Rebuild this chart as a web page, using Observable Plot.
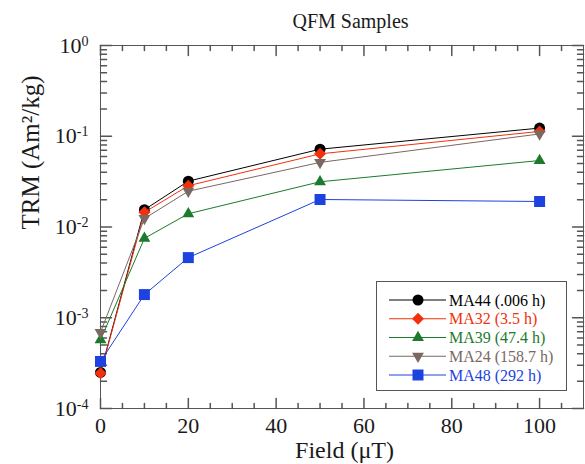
<!DOCTYPE html>
<html><head><meta charset="utf-8">
<script src="https://cdn.jsdelivr.net/npm/d3@7"></script>
<script src="https://cdn.jsdelivr.net/npm/@observablehq/plot@0.6"></script>
<style>body{margin:0;background:#fff;}</style>
</head><body><div id="chart"></div>
<script>
// ---- data ----
const fields = [0, 10, 20, 50, 100];
const seriesNames = ["MA44", "MA32", "MA39", "MA24", "MA48"];
const seriesTimes = [".006 h", "3.5 h", "47.4 h", "158.7 h", "292 h"];
const ma44 = [0.00025, 0.0155, 0.032, 0.072, 0.123];
const ma32 = [0.000245, 0.0145, 0.0285, 0.064, 0.113];
const ma39 = [0.00057, 0.0075, 0.014, 0.0315, 0.054];
const ma24 = [0.00069, 0.0124, 0.0248, 0.0515, 0.106];
const ma48 = [0.00033, 0.0018, 0.0046, 0.0201, 0.0191];
const seriesValues = [ma44, ma32, ma39, ma24, ma48];
const seriesColors = ["#000000", "#f2300c", "#1c7a2c", "#7a6862", "#1d42e0"];
const seriesSymbols = ["circle", "diamond", "triUp", "triDown", "square"];
const seriesRadius = [5.5, 4.8, 4.4, 4.4, 6.2];
const xMajorTicks = [0, 20, 40, 60, 80, 100];
const xMinorTicks = [5, 10, 15, 25, 30, 35, 45, 50, 55, 65, 70, 75, 85, 90, 95, 105];
const yMajorTicks = [1e-4, 1e-3, 1e-2, 1e-1, 1];
const yMinorTicks = [1e-4, 1e-3, 1e-2, 1e-1].flatMap(d => [2,3,4,5,6,7,8,9].map(k => k * d));
const titleText = "QFM Samples";
const xLabel = "Field (\u03bcT)";
const yLabel = "TRM (Am\u00b2/kg)";

// ---- symbols ----
const sqrt3 = Math.sqrt(3);
const symbols = {
  circle: d3.symbolCircle,
  square: d3.symbolSquare,
  triUp: d3.symbolTriangle,
  triDown: {draw(ctx, size) {
    const y = -Math.sqrt(size / (sqrt3 * 3));
    ctx.moveTo(0, -y * 2); ctx.lineTo(-sqrt3 * y, y); ctx.lineTo(sqrt3 * y, y); ctx.closePath();
  }},
  diamond: {draw(ctx, size) {
    const s = Math.sqrt(size / 2);
    ctx.moveTo(0, -s); ctx.lineTo(s, 0); ctx.lineTo(0, s); ctx.lineTo(-s, 0); ctx.closePath();
  }}
};
const tickShape = {draw(ctx, l) { ctx.moveTo(0, 0); ctx.lineTo(0, -l); }};
const axisColor = "#555555";
const textColor = "#1a1a1a";

const rows = seriesValues.map((vals, i) => fields.map((f, j) => ({field: f, trm: vals[j], series: seriesNames[i]})));

const marks = [Plot.frame({stroke: axisColor})];
// ticks (inward) on all four sides
marks.push(
  Plot.vectorY(yMajorTicks, {frameAnchor: "left", rotate: 90, length: 11, anchor: "start", shape: tickShape, stroke: axisColor}),
  Plot.vectorY(yMinorTicks, {frameAnchor: "left", rotate: 90, length: 6, anchor: "start", shape: tickShape, stroke: axisColor}),
  Plot.vectorY(yMajorTicks, {frameAnchor: "right", rotate: -90, length: 11, anchor: "start", shape: tickShape, stroke: axisColor}),
  Plot.vectorY(yMinorTicks, {frameAnchor: "right", rotate: -90, length: 6, anchor: "start", shape: tickShape, stroke: axisColor}),
  Plot.vectorX(xMajorTicks, {frameAnchor: "bottom", rotate: 0, length: 10, anchor: "start", shape: tickShape, stroke: axisColor}),
  Plot.vectorX(xMinorTicks, {frameAnchor: "bottom", rotate: 0, length: 5, anchor: "start", shape: tickShape, stroke: axisColor}),
  Plot.vectorX(xMajorTicks, {frameAnchor: "top", rotate: 180, length: 10, anchor: "start", shape: tickShape, stroke: axisColor}),
  Plot.vectorX(xMinorTicks, {frameAnchor: "top", rotate: 180, length: 5, anchor: "start", shape: tickShape, stroke: axisColor})
);
// tick labels and titles
marks.push(
  Plot.text(xMajorTicks, {x: d => d, frameAnchor: "bottom", lineAnchor: "middle", dy: 17, text: d => String(d), fontSize: 22, fill: textColor}),
  Plot.text(yMajorTicks, {y: d => d, frameAnchor: "left", lineAnchor: "middle", dx: -12, textAnchor: "end", text: d => "10|" + Math.round(Math.log10(d)), fontSize: 22, fill: textColor}),
  Plot.text([titleText], {frameAnchor: "top", lineAnchor: "middle", dx: 8.5, dy: -24, text: d => d, fontSize: 20, fill: textColor}),
  Plot.text([xLabel], {frameAnchor: "bottom", lineAnchor: "middle", dx: 2.5, dy: 42, text: d => d, fontSize: 24, fill: textColor}),
  Plot.text([yLabel], {frameAnchor: "left", lineAnchor: "middle", dx: -70, dy: 2.5, rotate: -90, text: d => d, fontSize: 25, fill: textColor})
);
// data
rows.forEach((r, i) => {
  marks.push(Plot.line(r, {x: "field", y: "trm", stroke: seriesColors[i], strokeWidth: 1}));
  marks.push(Plot.dot(r, {x: "field", y: "trm", symbol: symbols[seriesSymbols[i]], r: seriesRadius[i], fill: seriesColors[i], stroke: "none"}));
});

const chart = Plot.plot({
  width: 585, height: 464,
  marginLeft: 100, marginRight: 2, marginTop: 45, marginBottom: 56,
  x: {domain: [0, 110], axis: null},
  y: {type: "log", domain: [1e-4, 1], axis: null},
  style: {fontFamily: "'Liberation Serif', 'Times New Roman', serif", background: "white", overflow: "visible"},
  marks
});
document.getElementById("chart").appendChild(chart);

const svg = d3.select(chart);
// superscript exponents on y tick labels
svg.selectAll("text").each(function() {
  const s = this.textContent;
  if (!s.startsWith("10|")) return;
  const e = s.slice(3);
  const t = d3.select(this);
  t.text("10");
  t.append("tspan").attr("dy", "-0.5em").attr("font-size", "0.64em").text(e);
});

// legend
const lg = svg.append("g")
  .attr("font-family", "'Liberation Serif', 'Times New Roman', serif")
  .attr("font-size", 16).attr("text-anchor", "start");
lg.append("rect").attr("x", 376.5).attr("y", 281.5).attr("width", 190).attr("height", 109)
  .attr("fill", "white").attr("stroke", axisColor).attr("stroke-width", 1);
seriesNames.forEach((name, i) => {
  const yy = 300 + i * 18.75;
  lg.append("line").attr("x1", 389).attr("x2", 446).attr("y1", yy).attr("y2", yy)
    .attr("stroke", seriesColors[i]).attr("stroke-width", 1);
  const rr = seriesRadius[i];
  lg.append("path").attr("transform", `translate(418,${yy})`)
    .attr("d", d3.symbol(symbols[seriesSymbols[i]], rr * rr * Math.PI)())
    .attr("fill", seriesColors[i]);
  lg.append("text").attr("x", 449).attr("y", yy + 5.5).attr("fill", seriesColors[i])
    .text(`${name} (${seriesTimes[i]})`);
});
</script>
</body></html>
